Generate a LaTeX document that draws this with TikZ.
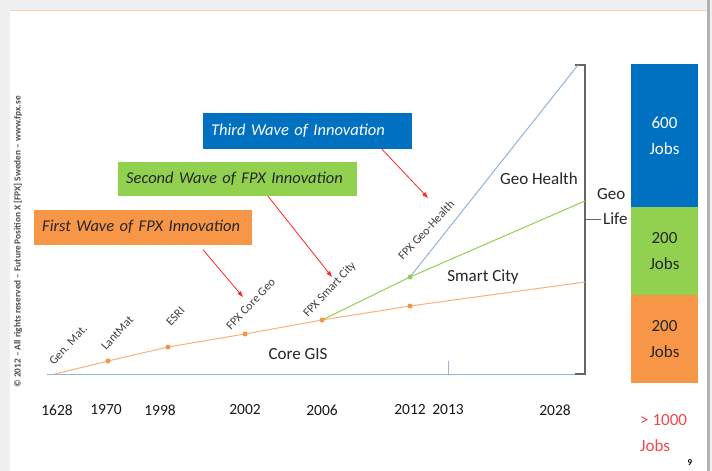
\documentclass[tikz,border=0pt]{standalone}
\usepackage{fontspec}
\setmainfont{Carlito}
\usetikzlibrary{arrows.meta, positioning}
\definecolor{fpxblue}{HTML}{0070C0}
\definecolor{fpxgreen}{HTML}{92D050}
\definecolor{fpxorange}{HTML}{F79646}
\definecolor{lineblue}{HTML}{95B3D7}
\definecolor{lineorange}{HTML}{F8B27A}
\definecolor{jobred}{HTML}{F0474B}

\begin{document}
\begin{tikzpicture}[x=1pt, y=-1pt,
        wave/.style={rectangle, anchor=west, inner xsep=8pt, inner ysep=0pt, align=left, font=\fontsize{16.5}{19}\selectfont\itshape},
        bar/.style={rectangle, inner sep=0pt, minimum width=67pt, align=center, font=\fontsize{17}{26}\selectfont},
        milestone/.style={anchor=base west, rotate=47, inner sep=0pt, text=black!75, font=\fontsize{12}{14}\selectfont},
        year/.style={font=\fontsize{15.5}{18}\selectfont, text=black!90},
        area/.style={font=\fontsize{17}{20}\selectfont, text=black!85},
        pointer/.style={-{Triangle[length=6pt, width=4pt]}, red!85, line width=0.8pt}
        ]

        % Slide background
        \useasboundingbox (0,0) rectangle (712,471);
        \fill[gray!12] (0,0) rectangle (712,471);
        \fill[white] (10,11) rectangle (707,471);
        \draw[orange!35, line width=1pt] (10,10.5) -- (707,10.5);
        \fill[gray!60] (707,0) rectangle (710,471);

        % Copyright
        \node (copyright) [rotate=90, text=black!70, font=\fontsize{9.3}{10}\selectfont\bfseries] at (18,242) {© 2012 – All rights reserved – Future Position X [FPX] Sweden – www.fpx.se};

        % Points on the curves
        \coordinate (c1628) at (55,374);
        \coordinate (c1970) at (108,361);
        \coordinate (c1998) at (168,347);
        \coordinate (c2002) at (245,334);
        \coordinate (c2006) at (322,320);
        \coordinate (c2012) at (410,306);
        \coordinate (c2028) at (585,282);
        \coordinate (g2012) at (410,277);
        \coordinate (g2028) at (585,201);
        \coordinate (h2028) at (578,65);
        \coordinate (origin) at (47,374);
        \coordinate (axisend) at (585,374);

        % Axis and bracket
        \draw[lineblue, line width=1pt] (origin) -- (axisend);
        \draw[lineblue, line width=1pt] (448,361) -- (448,374);
        \draw[gray!80!black, line width=1.2pt] (575,65) -- (585,65) -- (585,374) -- (575,374);
        \draw[gray!80!black, line width=1pt] (585,219) -- (601,219);

        % Curves
        \draw[lineorange, line width=1pt] (c1628) -- (c1970) -- (c1998) -- (c2002) -- (c2006) -- (c2012) -- (c2028);
        \draw[fpxgreen, line width=1pt] (c2006) -- (g2012) -- (g2028);
        \draw[lineblue, line width=1pt] (g2012) -- (h2028);
        \foreach \p in {c1970, c1998, c2002, c2006, c2012}
            \fill[fpxorange] (\p) circle (2.5);
        \fill[fpxgreen] (g2012) circle (2.5);

        % Milestones
        \node (genmat) [milestone] at (54,366) {Gen. Mat.};
        \node (lantmat) [milestone] at (106,351) {LantMat};
        \node (esri) [milestone] at (171,327) {ESRI};
        \node (coregeo) [milestone] at (231,331) {FPX Core Geo};
        \node (smartgeo) [milestone] at (308,318) {FPX Smart City};
        \node (healthgeo) [milestone] at (403,261) {FPX Geo-Health};

        % Areas
        \node (coregis) [area] at (298,354) {Core GIS};
        \node (smartcity) [area] at (483,277) {Smart City};
        \node (geohealth) [area] at (539,179) {Geo Health};
        \node (geo) [area, anchor=west, inner sep=0pt] at (597,194) {Geo};
        \node (life) [area, anchor=west, inner sep=0pt] at (603,219) {Life};

        % Years
        \foreach \yr/\xx in {1628/57, 1970/106, 1998/160, 2002/245, 2006/322, 2012/410, 2013/448, 2028/555}
            \node (y\yr) [year] at (\xx,410) {\yr};

        % Waves
        \node (wave3) [wave, fill=fpxblue, text=white, text width=193pt, minimum height=36pt] at (203,131) {Third Wave of Innovation};
        \node (wave2) [wave, fill=fpxgreen, text=black!85, text width=223pt, minimum height=34pt] at (118,179) {Second Wave of FPX Innovation};
        \node (wave1) [wave, fill=fpxorange, text=black!85, text width=202pt, minimum height=35pt] at (34,227) {First Wave of FPX Innovation};

        \coordinate (hit1) at (243,297);
        \coordinate (hit2) at (332,277);
        \coordinate (hit3) at (428,198);
        \draw[pointer] ([xshift=169pt, yshift=-5pt]wave1.south west) -- (hit1);
        \draw[pointer] ([xshift=150pt]wave2.south west) -- (hit2);
        \draw[pointer] ([xshift=179pt]wave3.south west) -- (hit3);

        % Jobs
        \node (jobs600) [bar, fill=fpxblue, text=white, minimum height=143pt] at (664.5,135.5) {600\\Jobs};
        \node (jobs200a) [bar, fill=fpxgreen, text=black!85, minimum height=88pt] at (664.5,251) {200\\Jobs};
        \node (jobs200b) [bar, fill=fpxorange, text=black!85, minimum height=88pt] at (664.5,339) {200\\Jobs};
        \node (total) [anchor=west, align=left, inner sep=0pt, text=jobred, font=\fontsize{17}{26}\selectfont] at (640,433) {> 1000\\Jobs};
        \node (pagenum) [font=\fontsize{9}{10}\selectfont\bfseries] at (690,463) {9};

    \end{tikzpicture}
\end{document}
